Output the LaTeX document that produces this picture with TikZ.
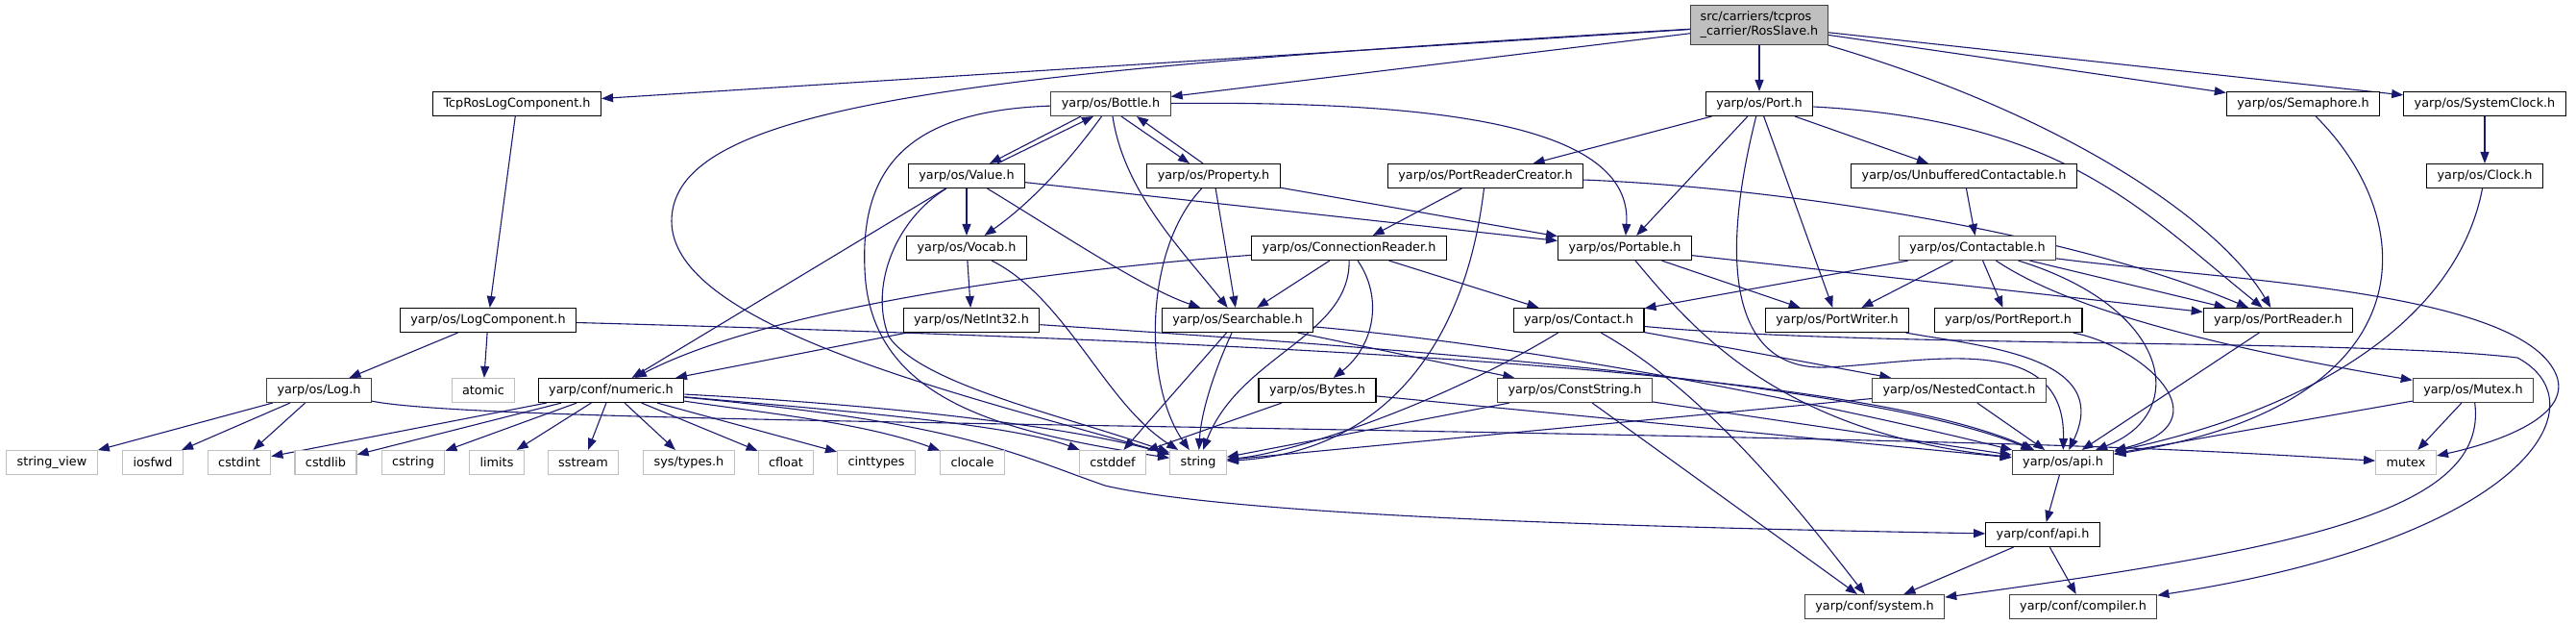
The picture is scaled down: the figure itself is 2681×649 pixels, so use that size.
\documentclass[tikz,border=0pt]{standalone}
\usepackage{fontspec}
\setmainfont{DejaVu Sans}
\usetikzlibrary{arrows.meta,backgrounds}
\definecolor{edgeColor}{RGB}{25,25,112}
\definecolor{rootFill}{RGB}{191,191,191}
\definecolor{rootDraw}{RGB}{64,64,64}
\definecolor{sysDraw}{RGB}{191,191,191}
\begin{document}
\begin{tikzpicture}[x=1pt,y=-1pt,
  hdr/.style={draw=black,line width=1.1pt,fill=white,text=black,inner xsep=11pt,inner ysep=0pt,
    minimum height=25pt,font=\fontsize{12.8}{15}\selectfont},
  hdrg/.style={hdr,draw=rootDraw},
  sys/.style={hdr,draw=sysDraw},
  top/.style={hdr,draw=rootDraw,fill=rootFill,align=left,minimum height=41pt,inner xsep=10pt},
  dep/.style={draw=edgeColor,line width=1.1pt,-{Triangle[length=12pt,width=9pt]}}]
\path[use as bounding box] (0,0) rectangle (2681,649);

\node[top] (root) at (1831,26) {src/carriers/tcpros\\\_carrier/RosSlave.h};

\node[hdr] (tcpros) at (538,108) {TcpRosLogComponent.h};
\node[hdrg] (bottle) at (1156,108) {yarp/os/Bottle.h};
\node[hdr] (port) at (1831,108) {yarp/os/Port.h};
\node[hdr] (semaphore) at (2397,108) {yarp/os/Semaphore.h};
\node[hdr] (sysclock) at (2586,108) {yarp/os/SystemClock.h};

\node[hdr] (value) at (1006,183) {yarp/os/Value.h};
\node[hdr] (property) at (1263,183) {yarp/os/Property.h};
\node[hdr] (prcreator) at (1546,183) {yarp/os/PortReaderCreator.h};
\node[hdr] (unbuffered) at (2044,183) {yarp/os/UnbufferedContactable.h};
\node[hdr] (clock) at (2586,183) {yarp/os/Clock.h};

\node[hdr] (vocab) at (1006,258) {yarp/os/Vocab.h};
\node[hdr] (connreader) at (1404,258) {yarp/os/ConnectionReader.h};
\node[hdr] (portable) at (1691,258) {yarp/os/Portable.h};
\node[hdrg] (contactable) at (2058,258) {yarp/os/Contactable.h};

\node[hdr] (logcomp) at (508,333) {yarp/os/LogComponent.h};
\node[hdr] (netint) at (1011,333) {yarp/os/NetInt32.h};
\node[hdr] (searchable) at (1288,333) {yarp/os/Searchable.h};
\node[hdr] (contact) at (1643,333) {yarp/os/Contact.h};
\node[hdr] (portwriter) at (1912,333) {yarp/os/PortWriter.h};
\node[hdr] (portreport) at (2090,333) {yarp/os/PortReport.h};
\node[hdr] (portreader) at (2371,333) {yarp/os/PortReader.h};

\node[hdrg] (log) at (332,406) {yarp/os/Log.h};
\node[sys] (atomic) at (503,406) {atomic};
\node[hdr] (numeric) at (636,406) {yarp/conf/numeric.h};
\node[hdr] (bytes) at (1371,406) {yarp/os/Bytes.h};
\node[hdrg] (conststring) at (1639,406) {yarp/os/ConstString.h};
\node[hdrg] (nested) at (2039,406) {yarp/os/NestedContact.h};
\node[hdrg] (mutexh) at (2574,406) {yarp/os/Mutex.h};

\node[sys] (stringview) at (54,481) {string\_view};
\node[sys] (iosfwd) at (159,481) {iosfwd};
\node[sys] (cstdint) at (249,481) {cstdint};
\node[sys] (cstdlib) at (339,481) {cstdlib};
\node[sys] (cstring) at (430,481) {cstring};
\node[sys] (limits) at (517,481) {limits};
\node[sys] (sstream) at (607,481) {sstream};
\node[sys] (systypes) at (717,481) {sys/types.h};
\node[sys] (cfloat) at (818,481) {cfloat};
\node[sys] (cinttypes) at (912,481) {cinttypes};
\node[sys] (clocale) at (1012,481) {clocale};
\node[sys] (cstddef) at (1158,481) {cstddef};
\node[sys] (string) at (1247,481) {string};
\node[hdrg] (osapi) at (2147,481) {yarp/os/api.h};
\node[sys] (mutex) at (2504,481) {mutex};

\node[hdr] (confapi) at (2126,556) {yarp/conf/api.h};
\node[hdrg] (system) at (1951,631) {yarp/conf/system.h};
\node[hdrg] (compiler) at (2168,631) {yarp/conf/compiler.h};

\begin{scope}[on background layer]
\fill[white] (0,0) rectangle (2681,649);
\draw[dep] (root) -- (tcpros);
\draw[dep] (root) -- (bottle);
\draw[dep] (root) -- (port);
\draw[dep] (root) -- (semaphore);
\draw[dep] (root) -- (sysclock);
\draw[dep] (root) .. controls (2150,120) and (2310,230) .. (portreader);
\draw[dep] (root) .. controls (1000,75) and (699,110) .. (699,230) .. controls (699,340) and (1000,410) .. (string);

\draw[dep] (tcpros) -- (logcomp);

\draw[dep] ([xshift=-31pt]bottle.south) -- ([xshift=24pt]value.north);
\draw[dep] ([xshift=32pt]value.north) -- ([xshift=-18pt]bottle.south);
\draw[dep] ([xshift=11pt]bottle.south) -- ([xshift=-25pt]property.north);
\draw[dep] ([xshift=-11pt]property.north) -- ([xshift=27pt]bottle.south);
\draw[dep] (bottle) .. controls (1100,185) and (1060,220) .. (vocab);
\draw[dep] (bottle) .. controls (1170,200) and (1230,260) .. (searchable);
\draw[dep] (bottle) .. controls (1500,105) and (1700,130) .. (portable);
\draw[dep] (bottle) .. controls (950,115) and (895,170) .. (900,280) .. controls (905,420) and (1050,450) .. (string);

\draw[dep] (value) -- (vocab);
\draw[dep] (value) .. controls (1100,240) and (1190,300) .. (searchable);
\draw[dep] (value) -- (portable);
\draw[dep] (value) -- (numeric);
\draw[dep] (value) .. controls (930,230) and (905,300) .. (925,350) .. controls (960,400) and (1100,430) .. (string);

\draw[dep] (property) -- (searchable);
\draw[dep] (property) -- (portable);
\draw[dep] (property) .. controls (1190,260) and (1190,400) .. (string);

\draw[dep] (port) -- (prcreator);
\draw[dep] (port) -- (unbuffered);
\draw[dep] (port) -- (portable);
\draw[dep] (port) -- (portwriter);
\draw[dep] (port) .. controls (2150,125) and (2230,220) .. (portreader);
\draw[dep] (port) .. controls (1790,270) and (1800,385) .. (1900,382) .. controls (2000,378) and (2150,340) .. (osapi);

\draw[dep] (prcreator) -- (connreader);
\draw[dep] (prcreator) .. controls (1525,360) and (1440,470) .. (string);
\draw[dep] (prcreator) .. controls (1850,195) and (2150,240) .. (portreader);

\draw[dep] (unbuffered) -- (contactable);
\draw[dep] (sysclock) -- (clock);

\draw[dep] (vocab) -- (netint);
\draw[dep] (vocab) .. controls (1110,310) and (1150,420) .. (string);

\draw[dep] (connreader) -- (searchable);
\draw[dep] (connreader) -- (contact);
\draw[dep] (connreader) .. controls (1440,310) and (1430,360) .. (bytes);
\draw[dep] (connreader) .. controls (1405,350) and (1290,370) .. (string);
\draw[dep] (connreader) .. controls (1100,280) and (800,320) .. (numeric);

\draw[dep] (portable) -- (portwriter);
\draw[dep] (portable) -- (portreader);
\draw[dep] (portable) .. controls (1760,340) and (1850,450) .. (osapi);

\draw[dep] (contactable) -- (contact);
\draw[dep] (contactable) -- (portwriter);
\draw[dep] (contactable) -- (portreport);
\draw[dep] (contactable) -- (portreader);
\draw[dep] (contactable) .. controls (2150,320) and (2300,360) .. (mutexh);
\draw[dep] (contactable) .. controls (2300,290) and (2600,300) .. (2655,380) .. controls (2690,430) and (2600,460) .. (mutex);
\draw[dep] (contactable) .. controls (2260,320) and (2280,430) .. (osapi);

\draw[dep] (logcomp) -- (log);
\draw[dep] (logcomp) -- (atomic);
\draw[dep] (logcomp) .. controls (1500,360) and (1950,395) .. (osapi);

\draw[dep] (netint) -- (numeric);
\draw[dep] (netint) .. controls (1500,365) and (1950,400) .. (osapi);

\draw[dep] (searchable) -- (cstddef);
\draw[dep] (searchable) .. controls (1262,390) and (1250,430) .. (string);
\draw[dep] (searchable) -- (conststring);
\draw[dep] (searchable) .. controls (1600,360) and (1900,420) .. (osapi);

\draw[dep] (contact) -- (nested);
\draw[dep] (contact) .. controls (1500,420) and (1350,470) .. (string);
\draw[dep] (contact) .. controls (1780,410) and (1880,540) .. (system);
\draw[dep] (contact) .. controls (1950,362) and (2450,352) .. (2620,372) .. controls (2710,420) and (2630,560) .. (compiler);

\draw[dep] (portwriter) .. controls (2060,360) and (2200,370) .. (osapi);
\draw[dep] (portreport) .. controls (2230,360) and (2320,440) .. (osapi);
\draw[dep] (portreader) -- (osapi);

\draw[dep] (log) -- (stringview);
\draw[dep] (log) -- (iosfwd);
\draw[dep] (log) -- (cstdint);
\draw[dep] (log) .. controls (500,440) and (1300,440) .. (2100,462) .. controls (2300,468) and (2400,475) .. (mutex);

\draw[dep] (numeric) -- (cstdint);
\draw[dep] (numeric) -- (cstdlib);
\draw[dep] (numeric) -- (cstring);
\draw[dep] (numeric) -- (limits);
\draw[dep] (numeric) -- (sstream);
\draw[dep] (numeric) -- (systypes);
\draw[dep] (numeric) -- (cfloat);
\draw[dep] (numeric) -- (cinttypes);
\draw[dep] (numeric) .. controls (800,430) and (900,440) .. (clocale);
\draw[dep] (numeric) .. controls (850,425) and (1050,440) .. (cstddef);
\draw[dep] (numeric) .. controls (900,420) and (1100,440) .. (string);
\draw[dep] (numeric) .. controls (1000,440) and (1050,470) .. (1150,505) .. controls (1300,540) and (1800,550) .. (confapi);

\draw[dep] (bytes) -- (cstddef);
\draw[dep] (bytes) -- (osapi);

\draw[dep] (conststring) -- (string);
\draw[dep] (conststring) -- (system);
\draw[dep] (conststring) -- (osapi);

\draw[dep] (nested) -- (osapi);
\draw[dep] (nested) -- (string);

\draw[dep] (mutexh) -- (mutex);
\draw[dep] (mutexh) -- (osapi);
\draw[dep] (mutexh) .. controls (2590,530) and (2400,570) .. (system);

\draw[dep] (semaphore) .. controls (2520,230) and (2530,420) .. (osapi);
\draw[dep] (clock) .. controls (2560,320) and (2430,420) .. (osapi);

\draw[dep] (osapi) -- (confapi);
\draw[dep] (confapi) -- (system);
\draw[dep] (confapi) -- (compiler);
\end{scope}
\end{tikzpicture}
\end{document}
